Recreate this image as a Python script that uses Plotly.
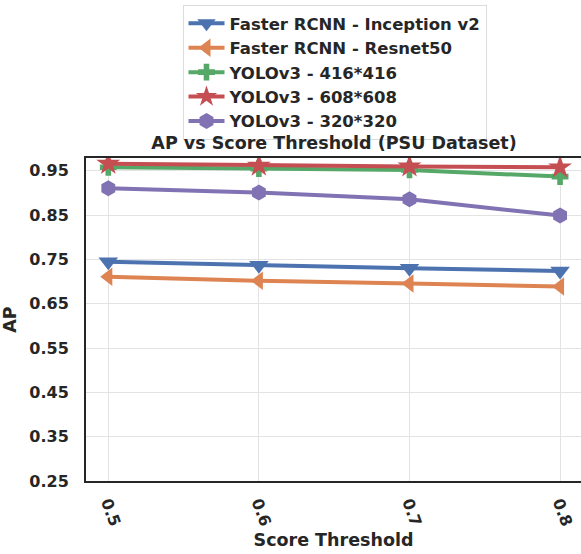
import plotly.graph_objects as go

thresholds = [0.5, 0.6, 0.7, 0.8]
names = ["Faster RCNN - Inception v2", "Faster RCNN - Resnet50",
         "YOLOv3 - 416*416", "YOLOv3 - 608*608", "YOLOv3 - 320*320"]
inception_v2 = [0.745, 0.737, 0.730, 0.724]
resnet50 = [0.711, 0.702, 0.696, 0.689]
yolo_416 = [0.958, 0.955, 0.952, 0.937]
yolo_608 = [0.966, 0.962, 0.960, 0.958]
yolo_320 = [0.911, 0.901, 0.886, 0.849]
y_ticks = [0.25, 0.35, 0.45, 0.55, 0.65, 0.75, 0.85, 0.95]
x_ticks = [0.5, 0.6, 0.7, 0.8]

series = [inception_v2, resnet50, yolo_416, yolo_608, yolo_320]
colors = ["#4C72B0", "#DD8452", "#55A868", "#C44E52", "#8172B3"]
symbols = ["triangle-down", "triangle-left", "cross", "star", "hexagon"]
sizes = [17, 16, 14, 18, 16]

FONT = "DejaVu Sans"
TXT = "#262626"
fig = go.Figure()
for name, vals, c, s, sz in zip(names, series, colors, symbols, sizes):
    fig.add_trace(go.Scatter(
        x=thresholds, y=vals, name=name, mode="lines+markers",
        line=dict(color=c, width=4),
        marker=dict(symbol=s, size=sz, color=c, line=dict(width=0)),
    ))

fig.update_layout(
    width=581, height=554,
    margin=dict(l=86, r=0, t=158, b=73, autoexpand=False),
    paper_bgcolor="white", plot_bgcolor="white",
    font=dict(family=FONT, size=16, color=TXT, weight="bold"),
    title=dict(text="AP vs Score Threshold (PSU Dataset)", x=334 / 581, xanchor="center",
               xref="container", y=1 - 143 / 554, yanchor="middle", yref="container",
               font=dict(family=FONT, size=17.5, color=TXT, weight="bold")),
    legend=dict(x=334.5 / 581, xanchor="center", xref="container",
                y=1 - 5 / 554, yanchor="top", yref="container",
                bordercolor="#dcdcdc", borderwidth=1,
                font=dict(family=FONT, size=16.5, color=TXT, weight="bold"),
                itemwidth=36, tracegroupgap=0),
    showlegend=True,
)
fig.update_xaxes(
    range=[0.4852, 0.8139], tickvals=x_ticks, ticktext=[str(v) for v in x_ticks],
    tickangle=70, showgrid=True, gridcolor="#e3e3e3", gridwidth=1,
    showline=True, linecolor=TXT, linewidth=2, mirror=True,
    ticks="", zeroline=False, ticklabelstandoff=4,
    title=dict(text="Score Threshold", standoff=6,
               font=dict(family=FONT, size=17.5, color=TXT, weight="bold")),
)
fig.update_yaxes(
    range=[0.25, 0.979], tickvals=y_ticks, ticktext=["%.2f" % v for v in y_ticks],
    showgrid=True, gridcolor="#e3e3e3", gridwidth=1,
    showline=True, linecolor=TXT, linewidth=2, mirror=False,
    ticks="", zeroline=False, ticklabelstandoff=12,
    title=dict(text="AP", standoff=9,
               font=dict(family=FONT, size=17.5, color=TXT, weight="bold")),
)
fig.write_html(
    "out.html",
    config={"displayModeBar": False},
    post_script="document.body.style.margin='0';document.body.style.overflow='hidden';",
)
